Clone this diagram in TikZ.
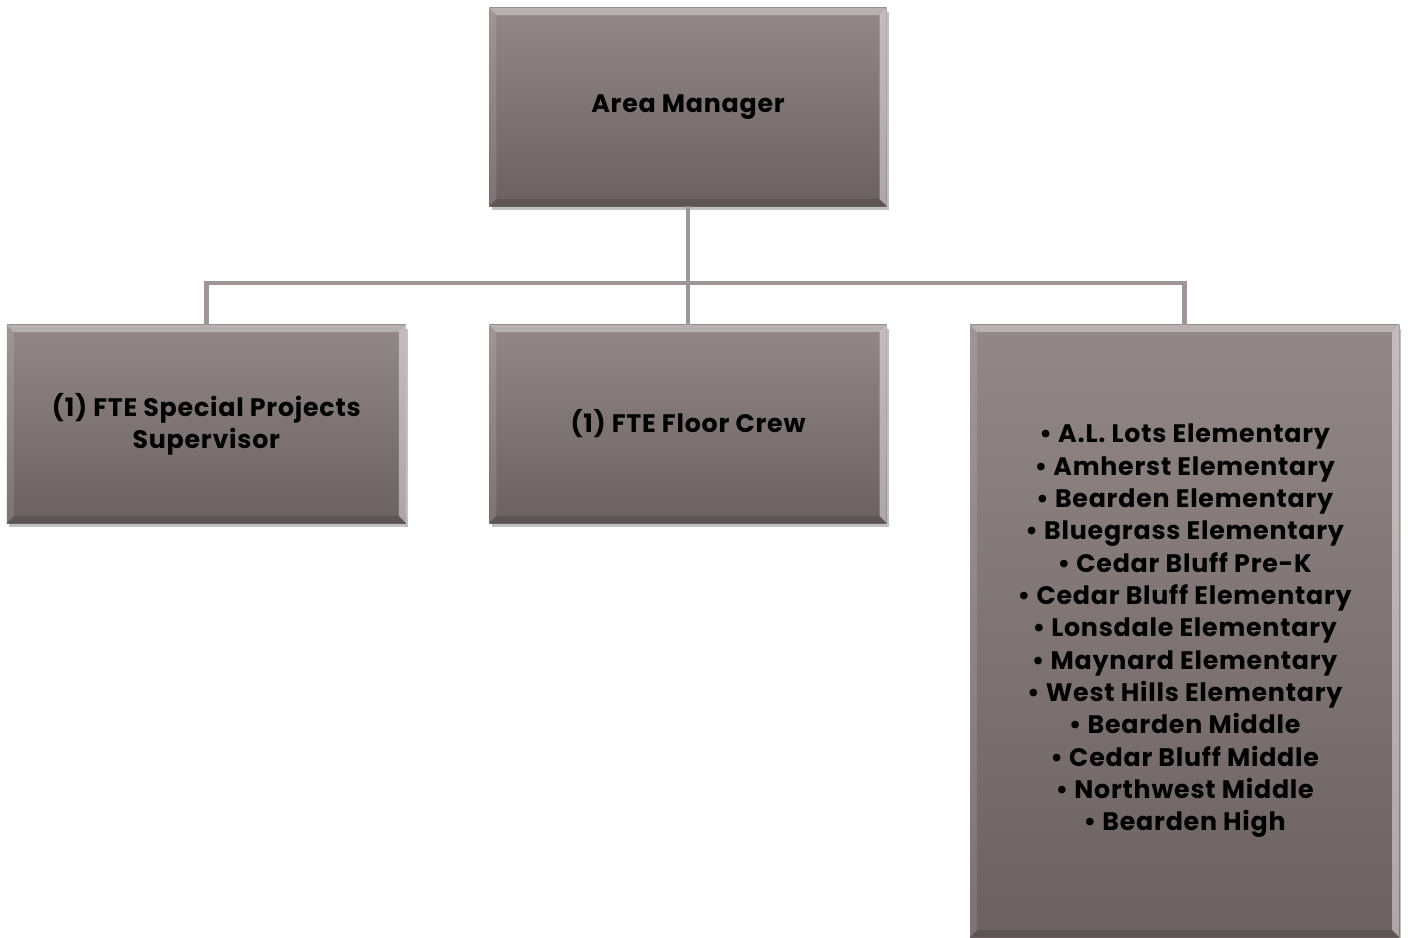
\documentclass[tikz,border=0pt]{standalone}
\usepackage{fontspec}
\setmainfont[LetterSpace=3]{Poppins}
\usetikzlibrary{positioning,shadows}

\definecolor{boxtop}{RGB}{146,136,135}
\definecolor{boxbot}{RGB}{106,97,96}
\definecolor{linkgray}{RGB}{160,150,150}

\def\bev{5pt}

\begin{document}
\begin{tikzpicture}[x=0.025cm,y=-0.025cm,node distance=2.075cm,
    box/.style={rectangle, top color=boxtop, bottom color=boxbot, draw=none,
      minimum width=9.925cm, minimum height=4.95cm, align=center,
      font=\bfseries\fontsize{18}{23}\selectfont, text=black,
      drop shadow={shadow xshift=1.5pt, shadow yshift=-3pt, opacity=0.35, fill=black!70},
      path picture={
        \fill[white,opacity=0.35] (path picture bounding box.north west) -- (path picture bounding box.north east)
          -- ([xshift=-\bev,yshift=-\bev]path picture bounding box.north east) -- ([xshift=\bev,yshift=-\bev]path picture bounding box.north west) -- cycle;
        \fill[white,opacity=0.12] (path picture bounding box.north west) -- ([xshift=\bev,yshift=-\bev]path picture bounding box.north west)
          -- ([xshift=\bev,yshift=\bev]path picture bounding box.south west) -- (path picture bounding box.south west) -- cycle;
        \fill[white,opacity=0.45] (path picture bounding box.north east) -- ([xshift=-\bev,yshift=-\bev]path picture bounding box.north east)
          -- ([xshift=-\bev,yshift=\bev]path picture bounding box.south east) -- (path picture bounding box.south east) -- cycle;
        \fill[black,opacity=0.12] (path picture bounding box.south west) -- ([xshift=\bev,yshift=\bev]path picture bounding box.south west)
          -- ([xshift=-\bev,yshift=\bev]path picture bounding box.south east) -- (path picture bounding box.south east) -- cycle;
      }},
    link/.style={draw=linkgray, line width=3.5pt}]
  \useasboundingbox (0,0) rectangle (1410,938);

  \node[box] (mgr) at (688,107) {Area Manager};
  \node[box] (crew) at (688,424) {(1) FTE Floor Crew};
  \node[box, minimum width=9.975cm] (sup) [left=of crew] {(1) FTE Special Projects\\Supervisor};
  \node[box, minimum width=10.725cm, minimum height=15.3cm] (schools) [right=of crew.north east, anchor=north west]
    {\textbullet{} A.L. Lots Elementary\\
     \textbullet{} Amherst Elementary\\
     \textbullet{} Bearden Elementary\\
     \textbullet{} Bluegrass Elementary\\
     \textbullet{} Cedar Bluff Pre-K\\
     \textbullet{} Cedar Bluff Elementary\\
     \textbullet{} Lonsdale Elementary\\
     \textbullet{} Maynard Elementary\\
     \textbullet{} West Hills Elementary\\
     \textbullet{} Bearden Middle\\
     \textbullet{} Cedar Bluff Middle\\
     \textbullet{} Northwest Middle\\
     \textbullet{} Bearden High};

  \coordinate (bus) at (688,283);
  \path[link]
        (mgr.south) -- (crew.north)
        (sup.north) |- (bus) -| (schools.north);
\end{tikzpicture}
\end{document}
